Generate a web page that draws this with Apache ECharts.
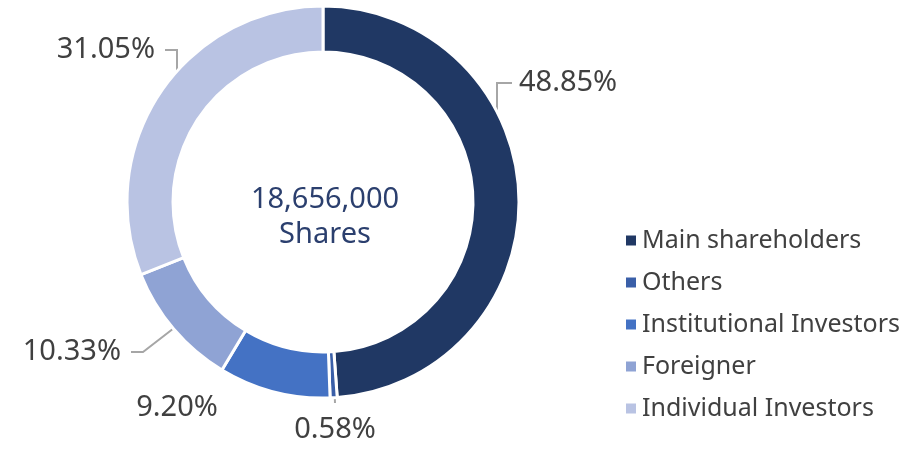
<!DOCTYPE html>
<html>
<head>
<meta charset="utf-8">
<script src="https://cdn.jsdelivr.net/npm/echarts@6/dist/echarts.min.js"></script>
<style>
  html, body { margin: 0; padding: 0; background: #fff; }
  #chart { width: 922px; height: 453px; }
</style>
</head>
<body>
<div id="chart"></div>
<script>
const categories = ['Main shareholders', 'Others', 'Institutional Investors', 'Foreigner', 'Individual Investors']
const shares = [48.85, 0.58, 9.20, 10.33, 31.05]
const colors = ['#203864', '#3a5fa8', '#4472c4', '#8fa3d4', '#b9c3e3']
const totalLabel = '18,656,000\nShares'

// label placement, like the dragged labels in the original
const labelSpots = [
  { x: 519, y: 83, align: 'left', line: [[497, 194], [497, 83], [512, 83]] },
  { x: 335, y: 430, align: 'center', line: [[334, 378], [335, 403], [335, 403]] },
  { x: 177, y: 408, align: 'center', line: null },
  { x: 121, y: 352, align: 'right', line: [[187, 318], [143, 352], [131, 352]] },
  { x: 155, y: 50, align: 'right', line: [[177, 105], [177, 50], [165, 50]] },
]

const chart = echarts.init(document.getElementById('chart'))

chart.setOption({
  animation: false,
  color: colors,
  textStyle: { fontFamily: 'Noto Sans' },
  legend: {
    orient: 'vertical',
    left: 619,
    top: 223,
    itemGap: 17,
    itemWidth: 12,
    itemHeight: 12,
    icon: 'rect',
    textStyle: { fontSize: 25, color: '#404040', fontFamily: 'Noto Sans' },
    data: categories,
  },
  graphic: [{
    type: 'text',
    x: 325,
    y: 217,
    style: {
      text: totalLabel,
      align: 'center',
      verticalAlign: 'middle',
      fontSize: 29,
      lineHeight: 35,
      fill: '#2b3f6e',
      fontFamily: 'Noto Sans',
    },
  }],
  series: [{
    type: 'pie',
    center: [323, 202],
    radius: [150, 196],
    startAngle: 90,
    clockwise: true,
    itemStyle: { borderColor: '#fff', borderWidth: 3 },
    label: {
      show: true,
      formatter: (p) => p.value.toFixed(2) + '%',
      fontSize: 29,
      color: '#404040',
      fontFamily: 'Noto Sans',
    },
    labelLine: {
      show: true,
      lineStyle: { color: '#a6a6a6', width: 2 },
    },
    labelLayout: (params) => {
      const s = labelSpots[params.dataIndex]
      const out = { x: s.x, y: s.y, align: s.align, verticalAlign: 'middle' }
      if (s.line) out.labelLinePoints = s.line
      return out
    },
    data: categories.map((name, i) => ({
      name: name,
      value: shares[i],
      labelLine: { show: labelSpots[i].line !== null },
    })),
  }],
})
</script>
</body>
</html>
